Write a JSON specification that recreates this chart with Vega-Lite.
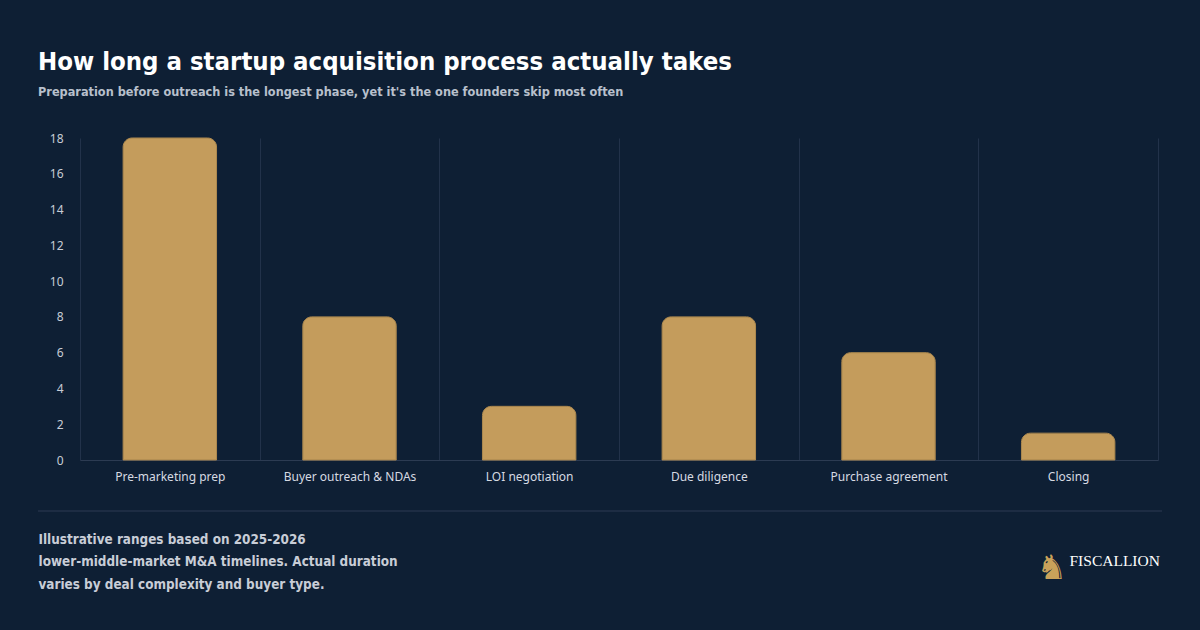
{
  "$schema": "https://vega.github.io/schema/vega-lite/v6.json",
  "autosize": {"type": "none"},
  "width": 1078,
  "height": 322,
  "padding": {"left": 80, "top": 138, "right": 42, "bottom": 170},
  "background": "#0e1f34",
  "config": {"view": {"stroke": null}},
  "title": {
    "text": "How long a startup acquisition process actually takes",
    "subtitle": "Preparation before outreach is the longest phase, yet it's the one founders skip most often",
    "anchor": "start",
    "frame": "group",
    "dx": -42,
    "offset": 33,
    "font": "DejaVu Sans Condensed, sans-serif",
    "fontWeight": "bold",
    "fontSize": 25.5,
    "color": "#ffffff",
    "subtitleFont": "DejaVu Sans Condensed, sans-serif",
    "subtitleFontWeight": "bold",
    "subtitleFontSize": 12.6,
    "subtitleColor": "#b8c0cc",
    "subtitlePadding": 11
  },
  "data": {
    "values": [
      {"phase": "Pre-marketing prep", "weeks": 18},
      {"phase": "Buyer outreach & NDAs", "weeks": 8},
      {"phase": "LOI negotiation", "weeks": 3},
      {"phase": "Due diligence", "weeks": 8},
      {"phase": "Purchase agreement", "weeks": 6},
      {"phase": "Closing", "weeks": 1.5}
    ]
  },
  "layer": [
    {
      "mark": {
        "type": "bar",
        "width": {"band": 0.52},
        "color": "#c49c5c",
        "stroke": "#ae8a50",
        "strokeWidth": 1,
        "cornerRadiusTopLeft": 9,
        "cornerRadiusTopRight": 9
      },
      "encoding": {
        "x": {
          "field": "phase",
          "type": "nominal",
          "sort": null,
          "scale": {"paddingInner": 0, "paddingOuter": 0},
          "axis": {
            "tickBand": "extent",
            "grid": true,
            "gridColor": "#22324a",
            "gridWidth": 1,
            "ticks": false,
            "domain": true,
            "domainColor": "#2c3b52",
            "domainWidth": 1,
            "labelAngle": 0,
            "labelPadding": 11,
            "labelFont": "Noto Sans",
            "labelFontSize": 12,
            "labelColor": "#d6dae2",
            "title": [
              "Illustrative ranges based on 2025-2026",
              "lower-middle-market M&A timelines. Actual duration",
              "varies by deal complexity and buyer type."
            ],
            "titleX": -42,
            "titleY": 83,
            "titleAlign": "left",
            "titleAnchor": "start",
            "titleBaseline": "alphabetic",
            "titleLineHeight": 22.5,
            "titleFont": "DejaVu Sans Condensed, sans-serif",
            "titleFontWeight": "bold",
            "titleFontSize": 13.4,
            "titleColor": "#c8cdd7"
          }
        },
        "y": {
          "field": "weeks",
          "type": "quantitative",
          "scale": {"domain": [0, 18], "nice": false},
          "axis": {
            "values": [0, 2, 4, 6, 8, 10, 12, 14, 16, 18],
            "grid": false,
            "domain": false,
            "ticks": false,
            "labelPadding": 17,
            "labelFont": "Noto Sans",
            "labelFontSize": 12,
            "labelColor": "#c8cdd6",
            "title": "FISCALLION",
            "titleAngle": 0,
            "titleX": 989,
            "titleY": 427,
            "titleAlign": "left",
            "titleBaseline": "alphabetic",
            "titleFont": "Liberation Serif",
            "titleFontWeight": "normal",
            "titleFontSize": 15.5,
            "titleColor": "#ffffff"
          }
        }
      }
    },
    {
      "data": {"values": [{"kind": "separator"}]},
      "mark": {"type": "rule", "color": "#233248", "strokeWidth": 1.5},
      "encoding": {
        "x": {"value": -42},
        "x2": {"value": 1082},
        "y": {"value": 373}
      }
    },
    {
      "data": {"values": [{"icon": "♞"}]},
      "mark": {"type": "text", "color": "#c9a25a", "font": "DejaVu Sans", "fontSize": 34, "align": "center", "baseline": "alphabetic"},
      "encoding": {
        "text": {"field": "icon"},
        "x": {"value": 972},
        "y": {"value": 441}
      }
    }
  ]
}
